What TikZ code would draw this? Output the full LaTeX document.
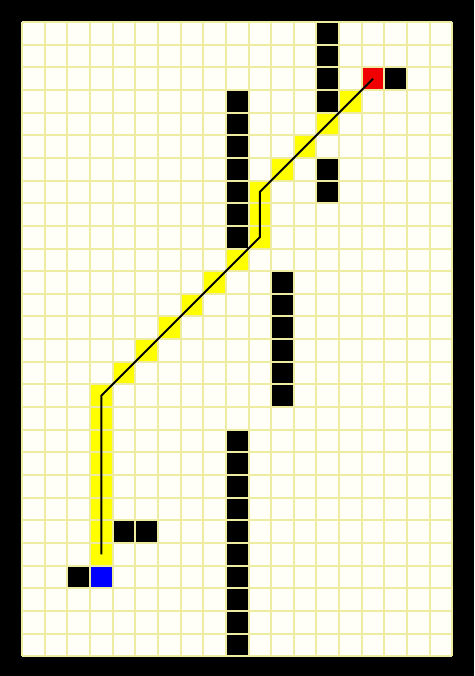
\documentclass[tikz,border=0pt]{standalone}
\begin{document}
\begin{tikzpicture}[x=1pt,y=-1pt]
\definecolor{gridline}{RGB}{238,236,160}
\definecolor{cellbg}{RGB}{255,255,248}
\definecolor{pathyellow}{RGB}{255,255,0}
\definecolor{startblue}{RGB}{0,0,255}
\definecolor{goalred}{RGB}{240,0,0}
\tikzset{
  wall/.style={fill=black},
  visited/.style={fill=pathyellow},
  startcell/.style={fill=startblue},
  goalcell/.style={fill=goalred},
  route/.style={draw=black,line width=2pt,line join=miter},
  gridl/.style={draw=gridline,line width=2pt}
}
\fill[black] (0,0) rectangle (474,676);
\useasboundingbox (0,0) rectangle (474,676);
\begin{scope}[shift={(22,22)},x=22.65pt,y=-22.65pt]
  \fill[cellbg] (0,0) rectangle (19,28);
  % walls
  \foreach \r in {0,...,3} \path[wall] (13,\r) rectangle ++(1,1);
  \path[wall] (16,2) rectangle ++(1,1);
  \foreach \r in {6,7} \path[wall] (13,\r) rectangle ++(1,1);
  \foreach \r in {3,...,9} \path[wall] (9,\r) rectangle ++(1,1);
  \foreach \r in {11,...,16} \path[wall] (11,\r) rectangle ++(1,1);
  \foreach \r in {18,...,27} \path[wall] (9,\r) rectangle ++(1,1);
  \foreach \c in {4,5} \path[wall] (\c,22) rectangle ++(1,1);
  \path[wall] (2,24) rectangle ++(1,1);
  % visited path cells
  \foreach \r in {16,...,23} \path[visited] (3,\r) rectangle ++(1,1);
  \foreach \c/\r in {4/15,5/14,6/13,7/12,8/11,9/10,10/9,10/8,10/7,11/6,12/5,13/4,14/3}
    \path[visited] (\c,\r) rectangle ++(1,1);
  % start and goal
  \path[startcell] (3,24) rectangle ++(1,1);
  \path[goalcell] (15,2) rectangle ++(1,1);
  % grid
  \foreach \c in {0,...,19} \draw[gridl] (\c,0) -- (\c,28);
  \foreach \r in {0,...,28} \draw[gridl] (0,\r) -- (19,\r);
  % route
  \coordinate (p0) at (3.5,23.5);
  \coordinate (p1) at (3.5,16.5);
  \coordinate (p2) at (10.5,9.5);
  \coordinate (p3) at (10.5,7.5);
  \coordinate (p4) at (15.5,2.5);
  \draw[route] (p0) -- (p1) -- (p2) -- (p3) -- (p4);
\end{scope}
\end{tikzpicture}
\end{document}
